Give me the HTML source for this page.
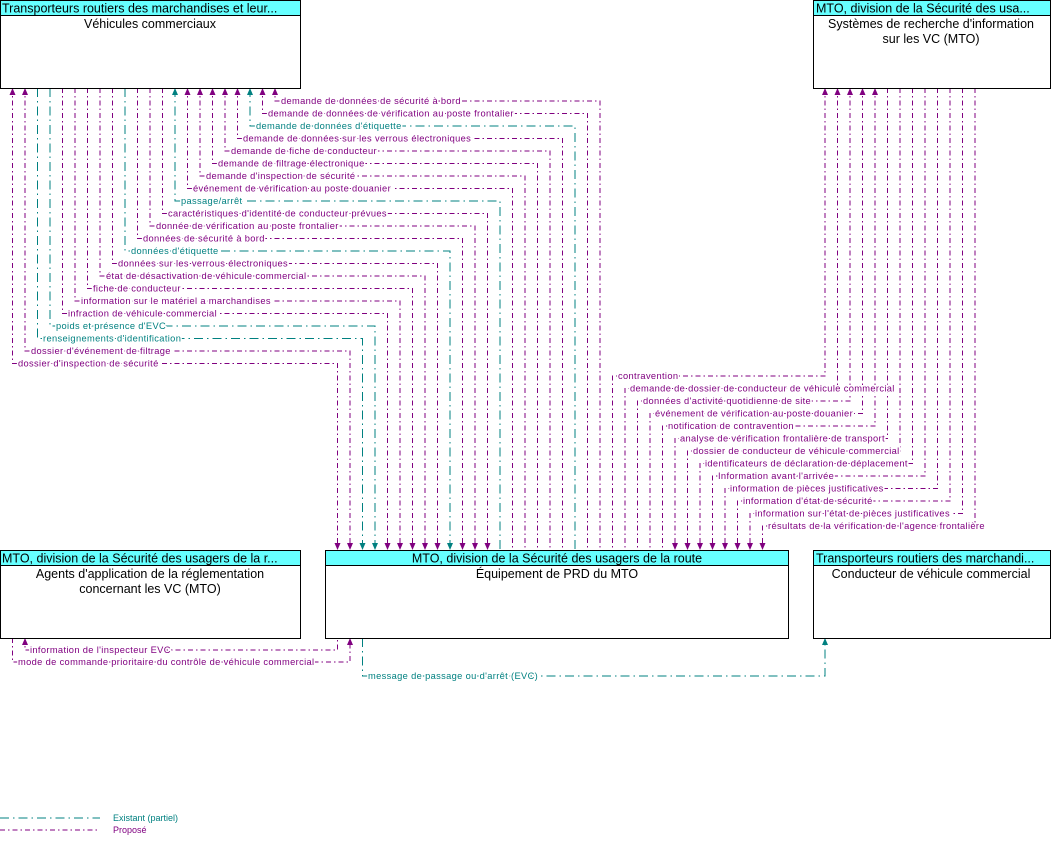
<!DOCTYPE html>
<html><head><meta charset="utf-8"><style>
html,body{margin:0;padding:0;background:#fff}
svg{display:block}
text{font-family:"Liberation Sans",Arial,sans-serif}
.l{font-size:9.3px;letter-spacing:0.35px;paint-order:stroke;stroke:#fff;stroke-width:3px}
.p{fill:#800080}.t{fill:#008080}
.P{stroke:#800080;fill:none;stroke-dasharray:5,3,1.5,3}
.T{stroke:#008080;fill:none;stroke-dasharray:9,4,1.5,4}
.h{font-size:12.5px;fill:#000}
.ap{fill:#800080}.at{fill:#008080}
</style></head><body>
<svg width="1060" height="847" viewBox="0 0 1060 847" xmlns="http://www.w3.org/2000/svg">
<g>
<path class="P" d="M275 88V101H600V550"/>
<path class="P" d="M262.5 88V113.5H587.5V550"/>
<path class="T" d="M250 88V126H575V550"/>
<path class="P" d="M237.5 88V138.5H562.5V550"/>
<path class="P" d="M225 88V151H550V550"/>
<path class="P" d="M212.5 88V163.5H537.5V550"/>
<path class="P" d="M200 88V176H525V550"/>
<path class="P" d="M187.5 88V188.5H512.5V550"/>
<path class="T" d="M175 88V201H500V550"/>
<path class="P" d="M162.5 88V213.5H487.5V550"/>
<path class="P" d="M150 88V226H475V550"/>
<path class="P" d="M137.5 88V238.5H462.5V550"/>
<path class="T" d="M125 88V251H450V550"/>
<path class="P" d="M112.5 88V263.5H437.5V550"/>
<path class="P" d="M100 88V276H425V550"/>
<path class="P" d="M87.5 88V288.5H412.5V550"/>
<path class="P" d="M75 88V301H400V550"/>
<path class="P" d="M62.5 88V313.5H387.5V550"/>
<path class="T" d="M50 88V326H375V550"/>
<path class="T" d="M37.5 88V338.5H362.5V550"/>
<path class="P" d="M25 88V351H350V550"/>
<path class="P" d="M12.5 88V363.5H337.5V550"/>
</g>
<g class="l">
<text class="p" x="281" y="104">demande de données de sécurité à bord</text>
<text class="p" x="268" y="116.5">demande de données de vérification au poste frontalier</text>
<text class="t" x="256" y="129">demande de données d'étiquette</text>
<text class="p" x="243" y="141.5">demande de données sur les verrous électroniques</text>
<text class="p" x="231" y="154">demande de fiche de conducteur</text>
<text class="p" x="218" y="166.5">demande de filtrage électronique</text>
<text class="p" x="206" y="179">demande d'inspection de sécurité</text>
<text class="p" x="193" y="191.5">événement de vérification au poste douanier</text>
<text class="t" x="181" y="204">passage/arrêt</text>
<text class="p" x="168" y="216.5">caractéristiques d'identité de conducteur prévues</text>
<text class="p" x="156" y="229">donnée de vérification au poste frontalier</text>
<text class="p" x="143" y="241.5">données de sécurité à bord</text>
<text class="t" x="131" y="254">données d'étiquette</text>
<text class="p" x="118" y="266.5">données sur les verrous électroniques</text>
<text class="p" x="106" y="279">état de désactivation de véhicule commercial</text>
<text class="p" x="93" y="291.5">fiche de conducteur</text>
<text class="p" x="81" y="304">information sur le matériel a marchandises</text>
<text class="p" x="68" y="316.5">infraction de véhicule commercial</text>
<text class="t" x="56" y="329">poids et présence d'EVC</text>
<text class="t" x="43" y="341.5">renseignements d'identification</text>
<text class="p" x="31" y="354">dossier d'événement de filtrage</text>
<text class="p" x="18" y="366.5">dossier d'inspection de sécurité</text>
</g>
<g>
<path class="P" d="M825 88V376H612.5V550"/>
<path class="P" d="M837.5 88V388.5H625V550"/>
<path class="P" d="M850 88V401H637.5V550"/>
<path class="P" d="M862.5 88V413.5H650V550"/>
<path class="P" d="M875 88V426H662.5V550"/>
<path class="P" d="M887.5 88V438.5H675V550"/>
<path class="P" d="M900 88V451H687.5V550"/>
<path class="P" d="M912.5 88V463.5H700V550"/>
<path class="P" d="M925 88V476H712.5V550"/>
<path class="P" d="M937.5 88V488.5H725V550"/>
<path class="P" d="M950 88V501H737.5V550"/>
<path class="P" d="M962.5 88V513.5H750V550"/>
<path class="P" d="M975 88V526H762.5V550"/>
</g>
<g class="l">
<text class="p" x="618" y="379">contravention</text>
<text class="p" x="630" y="391.5">demande de dossier de conducteur de véhicule commercial</text>
<text class="p" x="643" y="404">données d'activité quotidienne de site</text>
<text class="p" x="655" y="416.5">événement de vérification au poste douanier</text>
<text class="p" x="668" y="429">notification de contravention</text>
<text class="p" x="680" y="441.5">analyse de vérification frontalière de transport</text>
<text class="p" x="693" y="454">dossier de conducteur de véhicule commercial</text>
<text class="p" x="705" y="466.5">identificateurs de déclaration de déplacement</text>
<text class="p" x="718" y="479">Information avant l'arrivée</text>
<text class="p" x="730" y="491.5">information de pièces justificatives</text>
<text class="p" x="743" y="504">information d'état de sécurité</text>
<text class="p" x="755" y="516.5">information sur l'état de pièces justificatives</text>
<text class="p" x="768" y="529">résultats de la vérification de l'agence frontalière</text>
</g>
<path class="P" d="M25 638V650H337.5V638"/>
<path class="P" d="M12.5 638V662H350V638"/>
<path class="T" d="M362.5 638V676H825V638"/>
<g class="l">
<text class="p" x="30" y="653">information de l'inspecteur EVC</text>
<text class="p" x="18" y="665">mode de commande prioritaire du contrôle de véhicule commercial</text>
<text class="t" x="368" y="679">message de passage ou d'arrêt (EVC)</text>
</g>
<g class="ap">
<polygon points="272,95 278,95 275,88"/><polygon points="259.5,95 265.5,95 262.5,88"/>
<polygon points="234.5,95 240.5,95 237.5,88"/><polygon points="222,95 228,95 225,88"/>
<polygon points="209.5,95 215.5,95 212.5,88"/><polygon points="197,95 203,95 200,88"/>
<polygon points="184.5,95 190.5,95 187.5,88"/>
<polygon points="22,95 28,95 25,88"/><polygon points="9.5,95 15.5,95 12.5,88"/>
<polygon points="484.5,543 490.5,543 487.5,550"/><polygon points="472,543 478,543 475,550"/>
<polygon points="459.5,543 465.5,543 462.5,550"/><polygon points="434.5,543 440.5,543 437.5,550"/>
<polygon points="422,543 428,543 425,550"/><polygon points="409.5,543 415.5,543 412.5,550"/>
<polygon points="397,543 403,543 400,550"/><polygon points="384.5,543 390.5,543 387.5,550"/>
<polygon points="347,543 353,543 350,550"/><polygon points="334.5,543 340.5,543 337.5,550"/>
<polygon points="822,95 828,95 825,88"/><polygon points="834.5,95 840.5,95 837.5,88"/>
<polygon points="847,95 853,95 850,88"/><polygon points="859.5,95 865.5,95 862.5,88"/>
<polygon points="872,95 878,95 875,88"/>
<polygon points="672,543 678,543 675,550"/><polygon points="684.5,543 690.5,543 687.5,550"/>
<polygon points="697,543 703,543 700,550"/><polygon points="709.5,543 715.5,543 712.5,550"/>
<polygon points="722,543 728,543 725,550"/><polygon points="734.5,543 740.5,543 737.5,550"/>
<polygon points="747,543 753,543 750,550"/><polygon points="759.5,543 765.5,543 762.5,550"/>
<polygon points="22,645 28,645 25,638"/><polygon points="347,645 353,645 350,638"/>
</g>
<g class="at">
<polygon points="247,95 253,95 250,88"/><polygon points="172,95 178,95 175,88"/>
<polygon points="447,543 453,543 450,550"/><polygon points="372,543 378,543 375,550"/>
<polygon points="359.5,543 365.5,543 362.5,550"/>
<polygon points="822,645 828,645 825,638"/>
</g>
<g stroke="#000" stroke-width="1">
<rect x="0.5" y="0.5" width="300" height="88" fill="#fff"/><rect x="0.5" y="0.5" width="300" height="15" fill="#66ffff"/>
<rect x="813.5" y="0.5" width="237" height="88" fill="#fff"/><rect x="813.5" y="0.5" width="237" height="15" fill="#66ffff"/>
<rect x="0.5" y="550.5" width="300" height="88" fill="#fff"/><rect x="0.5" y="550.5" width="300" height="15" fill="#66ffff"/>
<rect x="325.5" y="550.5" width="463" height="88" fill="#fff"/><rect x="325.5" y="550.5" width="463" height="15" fill="#66ffff"/>
<rect x="813.5" y="550.5" width="237" height="88" fill="#fff"/><rect x="813.5" y="550.5" width="237" height="15" fill="#66ffff"/>
</g>
<g class="h">
<text x="2" y="12.5">Transporteurs routiers des marchandises et leur...</text>
<text x="150" y="28" text-anchor="middle">Véhicules commerciaux</text>
<text x="816" y="12.5">MTO, division de la Sécurité des usa...</text>
<text x="931" y="28" text-anchor="middle">Systèmes de recherche d'information</text>
<text x="931" y="43" text-anchor="middle">sur les VC (MTO)</text>
<text x="2" y="562.5">MTO, division de la Sécurité des usagers de la r...</text>
<text x="150" y="578" text-anchor="middle">Agents d'application de la réglementation</text>
<text x="150" y="593" text-anchor="middle">concernant les VC (MTO)</text>
<text x="557" y="562.5" text-anchor="middle">MTO, division de la Sécurité des usagers de la route</text>
<text x="557" y="578" text-anchor="middle">Équipement de PRD du MTO</text>
<text x="816" y="562.5">Transporteurs routiers des marchandi...</text>
<text x="931" y="578" text-anchor="middle">Conducteur de véhicule commercial</text>
</g>
<path class="T" d="M0 818H100"/>
<path class="P" d="M0 830H100"/>
<text x="113" y="821" style="font-size:9px" class="t">Existant (partiel)</text>
<text x="113" y="833" style="font-size:9px" class="p">Proposé</text>
</svg>
</body></html>
